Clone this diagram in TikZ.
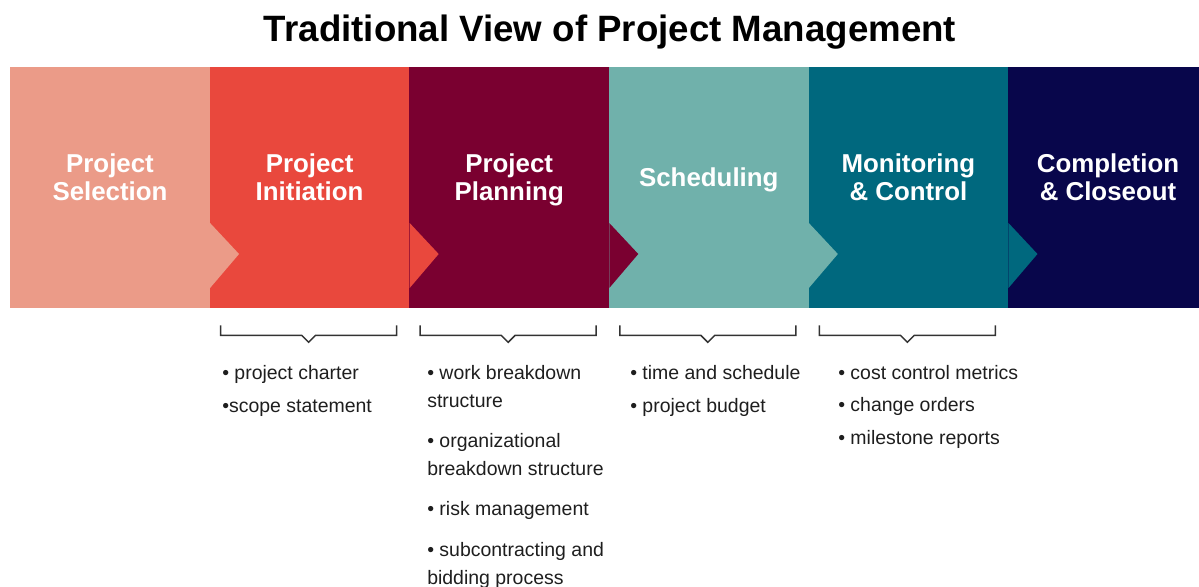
\documentclass[tikz,border=0pt]{standalone}
\usepackage{fontspec}
\setmainfont{Liberation Sans}
\definecolor{selection}{HTML}{EB9B88}
\definecolor{initiation}{HTML}{E9483D}
\definecolor{planning}{HTML}{7A0030}
\definecolor{scheduling}{HTML}{70B1AB}
\definecolor{monitoring}{HTML}{00687E}
\definecolor{closeout}{HTML}{08064B}
\definecolor{bracket}{HTML}{333333}
\definecolor{itemtext}{HTML}{1E1E1E}

\begin{document}
\begin{tikzpicture}[x=0.75pt, y=-0.75pt, node distance=149.7pt,
		title/.style={anchor=base, inner sep=0pt, font=\bfseries\fontsize{27.5}{30}\selectfont},
		stage node/.style={rectangle, inner sep=0pt, minimum width=149.7pt, minimum height=180.75pt},
		stage text/.style={text=white, align=center, text depth=0pt, yshift=8pt,
			font=\bfseries\fontsize{19.4}{21}\selectfont},
		item list/.style={anchor=north west, inner sep=0pt, align=left, text=itemtext},
		brace/.style={draw=bracket, line width=1.1pt}]
		
		\clip (0,0) rectangle (1199,586);
		\node[title] (title) at (610,41) {Traditional View of Project Management};
		
		\node[stage node, fill=selection, label={[stage text]center:Project\\Selection}] (1) at (110,187.5) {};
		\node[stage node, fill=initiation, label={[stage text]center:Project\\Initiation}] (2) [right of=1] {};
		\node[stage node, fill=planning, label={[stage text]center:Project\\Planning}] (3) [right of=2] {};
		\node[stage node, fill=scheduling, label={[stage text]center:Scheduling}] (4) [right of=3] {};
		\node[stage node, fill=monitoring, label={[stage text]center:Monitoring\\\& Control}] (5) [right of=4] {};
		\node[stage node, fill=closeout, label={[stage text]center:Completion\\\& Closeout}] (6) [right of=5] {};
		
		% arrow points into the next stage
		\foreach \n/\c in {1/selection,2/initiation,3/planning,4/scheduling,5/monitoring}
		\fill[\c] (\n.east |- 0,223) -- ++(29,31) -- ++(-29,34) -- cycle;
		
		\foreach \n in {2,...,5}
		\draw[brace] (\n.south) ++(-89,17) -- ++(0,10) -- ++(81,0) -- ++(7,7) -- ++(7,-7) -- ++(81,0) -- ++(0,-10);
		
		\node[item list, font=\fontsize{14.6}{24.75}\selectfont] (charter) at (222,365)
		{• project charter\\•scope statement};
		\node[item list, font=\fontsize{14.6}{21}\selectfont] (wbs) at (427,365)
		{• work breakdown\\structure\\[9pt]• organizational\\breakdown structure\\[9pt]• risk management\\[10pt]• subcontracting and\\bidding process};
		\node[item list, font=\fontsize{14.6}{24.75}\selectfont] (schedule) at (630,365)
		{• time and schedule\\• project budget};
		\node[item list, font=\fontsize{14.6}{24.4}\selectfont] (metrics) at (838,365)
		{• cost control metrics\\• change orders\\• milestone reports};
\end{tikzpicture}
\end{document}
